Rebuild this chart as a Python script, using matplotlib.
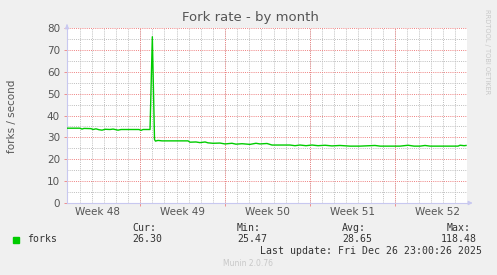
import matplotlib
matplotlib.use('Agg')
import matplotlib.pyplot as plt
from matplotlib.ticker import MultipleLocator, FixedLocator, NullFormatter

# days since start of window (33 days ending Fri Dec 26 23:00)
days = [0, 1.07, 1.24, 1.40, 1.98, 2.15, 2.39, 2.64, 2.89, 3.14, 3.55, 3.80,
        4.21, 4.46, 5.94, 6.11, 6.27, 6.85, 7.04, 7.22, 7.30, 7.51, 7.84,
        9.98, 10.15, 10.64, 10.97, 11.39, 11.63, 12.05, 12.62, 13.04, 13.61,
        13.94, 14.44, 15.10, 15.59, 15.92, 16.50, 16.91, 18.40, 18.81, 19.22,
        19.72, 20.21, 20.71, 21.29, 21.86, 22.52, 23.35, 24.17, 25.41, 25.83,
        27.48, 28.14, 28.63, 29.13, 29.54, 29.95, 32.26, 32.43, 32.76, 32.92]
forks = [34.2, 34.2, 33.8, 34.1, 34.0, 33.6, 33.9, 33.5, 33.3, 33.7, 33.6, 33.8,
         33.3, 33.6, 33.6, 33.2, 33.6, 33.6, 76.0, 29.0, 28.3, 28.6, 28.4,
         28.4, 27.8, 27.9, 27.6, 27.9, 27.5, 27.3, 27.4, 27.0, 27.3,
         26.9, 27.1, 26.8, 27.3, 27.0, 27.2, 26.5, 26.5, 26.2, 26.5,
         26.2, 26.5, 26.2, 26.4, 26.1, 26.3, 26.0, 26.0, 26.3, 26.0,
         26.0, 26.4, 26.0, 26.0, 26.3, 26.0, 26.0, 26.4, 26.2, 26.3]

week_lines = [6.04, 13.04, 20.04, 27.04]   # Sunday 00:00 boundaries
week_labels = ['Week 48', 'Week 49', 'Week 50', 'Week 51', 'Week 52']
week_label_pos = [2.54, 9.54, 16.54, 23.54, 30.54]
day_lines = [d + 0.04 for d in range(33)]

stats_names = ['Cur:', 'Min:', 'Avg:', 'Max:']
stats_vals = ['26.30', '25.47', '28.65', '118.48']

W, H = 497, 275
fig = plt.figure(figsize=(W / 100, H / 100), dpi=100, facecolor='#F0F0F0')
ax = fig.add_axes([67 / W, 1 - 203 / H, 400 / W, 175 / H])
ax.set_facecolor('white')

ax.set_xlim(0, 33)
ax.set_ylim(0, 80)

dot = (0, (1, 1.2))
for d in day_lines:
    ax.axvline(d, color='#BEBEBE', lw=0.7, ls=dot, zorder=1)
for v in range(5, 80, 10):
    ax.axhline(v, color='#BEBEBE', lw=0.7, ls=dot, zorder=1)
for d in week_lines:
    ax.axvline(d, color='#EE8080', lw=0.7, ls=dot, zorder=2)
for v in range(10, 81, 10):
    ax.axhline(v, color='#EE8080', lw=0.7, ls=dot, zorder=2)

ax.plot(days, forks, color='#00CC00', lw=1.0, zorder=3)

for s in ['top', 'right']:
    ax.spines[s].set_visible(False)
for s in ['left', 'bottom']:
    ax.spines[s].set_color('#C8C8F0')
    ax.spines[s].set_linewidth(0.8)

# arrows on axes
ax.annotate('', xy=(0, 83), xytext=(0, 80), annotation_clip=False,
            arrowprops=dict(arrowstyle='-|>', color='#C8C8F0', lw=0.8, mutation_scale=6))
ax.annotate('', xy=(33.7, 0), xytext=(33, 0), annotation_clip=False,
            arrowprops=dict(arrowstyle='-|>', color='#C8C8F0', lw=0.8, mutation_scale=6))

ax.yaxis.set_major_locator(MultipleLocator(10))
ax.tick_params(axis='y', length=2, width=0.6, color='#EE8080', labelsize=7.5,
               labelcolor='#555555', pad=3)
ax.xaxis.set_major_locator(FixedLocator(week_lines))
ax.xaxis.set_major_formatter(NullFormatter())
ax.tick_params(axis='x', length=2, width=0.6, color='#EE8080')
ax.xaxis.set_minor_locator(FixedLocator(week_label_pos))
ax.xaxis.set_minor_formatter(plt.FixedFormatter(week_labels))
ax.tick_params(axis='x', which='minor', length=0, labelsize=7.5,
               labelcolor='#555555', pad=3)

fig.text(250 / W, 1 - 18 / H, 'Fork rate - by month', ha='center', va='center',
         fontsize=9.5, color='#555555')
fig.text(12 / W, 1 - 116 / H, 'forks / second', ha='center', va='center',
         rotation=90, fontsize=7.5, color='#555555')
fig.text(487 / W, 1 - 52 / H, 'RRDTOOL / TOBI OETIKER', ha='center', va='center',
         rotation=270, fontsize=4.8, color='#C8C8C8')

mono = 'DejaVu Sans Mono'
fig.patches.append(plt.Rectangle((13 / W, 1 - 243 / H), 6 / W, 6 / H,
                                 transform=fig.transFigure, color='#00CC00'))
fig.text(27 / W, 1 - 239.5 / H, 'forks', ha='left', va='center', family=mono,
         fontsize=7.1, color='#333333')
name_x = [132, 237, 342, 447]
val_x = [132, 237, 342, 441]
for nm, vl, nx, vx in zip(stats_names, stats_vals, name_x, val_x):
    fig.text(nx / W, 1 - 228 / H, nm, ha='left', va='center', family=mono,
             fontsize=7.1, color='#333333')
    fig.text(vx / W, 1 - 239.5 / H, vl, ha='left', va='center', family=mono,
             fontsize=7.1, color='#333333')
fig.text(482 / W, 1 - 251 / H, 'Last update: Fri Dec 26 23:00:26 2025',
         ha='right', va='center', family=mono, fontsize=7.1, color='#333333')
fig.text(248 / W, 1 - 264 / H, 'Munin 2.0.76', ha='center', va='center',
         fontsize=5.5, color='#C8C8C8')

fig.savefig('out.png', dpi=100, facecolor=fig.get_facecolor())
